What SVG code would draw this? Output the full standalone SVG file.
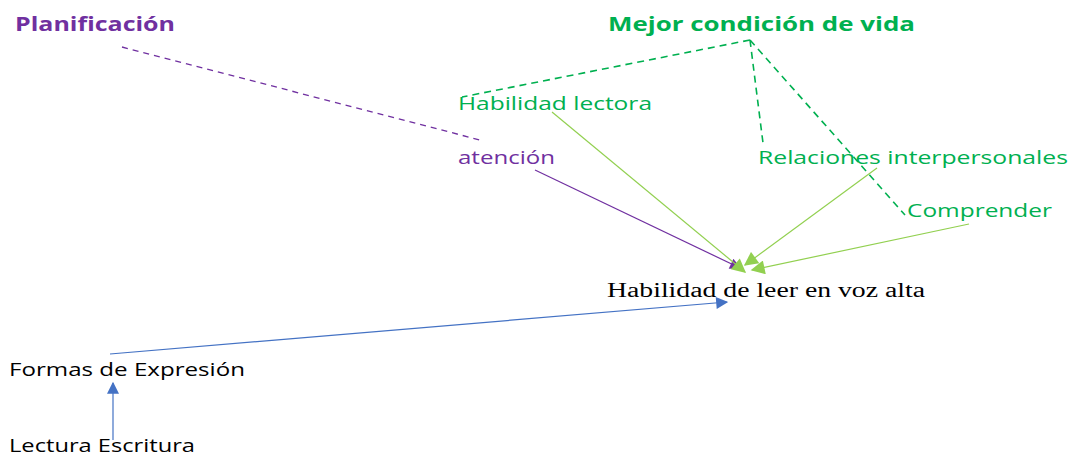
<svg xmlns="http://www.w3.org/2000/svg" width="1071" height="457" viewBox="0 0 1071 457">
<defs>
<style>
.t{font-family:"Open Sans","Noto Sans","DejaVu Sans",sans-serif;font-size:18px}
.b{font-weight:bold;font-size:20px}
.g{fill:#00B050}
.p{fill:#7030A0}
.k{fill:#000}
.s{font-family:"Liberation Serif","Times New Roman",serif;font-size:20px;fill:#000}
.dg{stroke:#00B050;stroke-width:1.6;stroke-dasharray:7,5;fill:none}
.dp{stroke:#7030A0;stroke-width:1.3;stroke-dasharray:6,5;fill:none}
.lg{stroke:#92D050;stroke-width:1.2;fill:none}
.lp{stroke:#7030A0;stroke-width:1.2;fill:none}
.lb{stroke:#4472C4;stroke-width:1.2;fill:none}
</style>
<marker id="ag" viewBox="0 0 10 10" refX="9" refY="5" markerWidth="16" markerHeight="14" markerUnits="userSpaceOnUse" orient="auto"><path d="M0,0L10,5L0,10z" fill="#92D050"/></marker>
<marker id="ap" viewBox="0 0 10 10" refX="9" refY="5" markerWidth="13" markerHeight="11" markerUnits="userSpaceOnUse" orient="auto"><path d="M0,0L10,5L0,10z" fill="#7030A0"/></marker>
<marker id="ab" viewBox="0 0 10 10" refX="9" refY="5" markerWidth="14" markerHeight="12" markerUnits="userSpaceOnUse" orient="auto"><path d="M0,0L10,5L0,10z" fill="#4472C4"/></marker>
</defs>
<g id="connectors">
<path class="dp" d="M122,47 L480,140"/>
<path class="lp" d="M535,170 L740,268" marker-end="url(#ap)"/>
<path class="dg" d="M750,40 L462,97"/>
<path class="dg" d="M750,40 L763,143"/>
<path class="dg" d="M750,40 L905,215"/>
<path class="lg" d="M552,112 L745,272" marker-end="url(#ag)"/>
<path class="lg" d="M877,168 L745,265" marker-end="url(#ag)"/>
<path class="lg" d="M969,224 L752,270" marker-end="url(#ag)"/>
<path class="lb" d="M110,354 L727,302" marker-end="url(#ab)"/>
<path class="lb" d="M113,440 L113,383" marker-end="url(#ab)" stroke-width="1.6"/>
</g>
<g id="planificacion"><text class="t b p" x="15" y="31" textLength="160" lengthAdjust="spacingAndGlyphs">Planificación</text></g>
<g id="mejor"><text class="t b g" x="608" y="31" textLength="307" lengthAdjust="spacingAndGlyphs">Mejor condición de vida</text></g>
<g id="habilidad-lectora"><text class="t g" x="458" y="110" textLength="194" lengthAdjust="spacingAndGlyphs">Habilidad lectora</text></g>
<g id="atencion"><text class="t p" x="458" y="164" textLength="97" lengthAdjust="spacingAndGlyphs">atención</text></g>
<g id="relaciones"><text class="t g" x="758" y="164" textLength="310" lengthAdjust="spacingAndGlyphs">Relaciones interpersonales</text></g>
<g id="comprender"><text class="t g" x="907" y="217" textLength="145" lengthAdjust="spacingAndGlyphs">Comprender</text></g>
<g id="habilidad-leer"><text class="s" x="607" y="297" textLength="318" lengthAdjust="spacingAndGlyphs">Habilidad de leer en voz alta</text></g>
<g id="formas"><text class="t k" x="9" y="376" textLength="236" lengthAdjust="spacingAndGlyphs">Formas de Expresión</text></g>
<g id="lectura"><text class="t k" x="9" y="452" textLength="186" lengthAdjust="spacingAndGlyphs">Lectura Escritura</text></g>
</svg>
